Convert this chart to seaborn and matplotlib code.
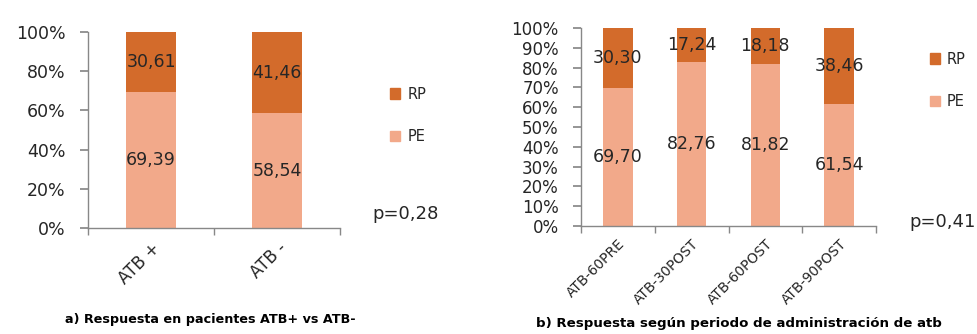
import matplotlib
matplotlib.use("Agg")
import matplotlib.pyplot as plt
import seaborn as sns
from matplotlib.patches import Patch

# data
cats_a = ["ATB +", "ATB -"]
pe_a = [69.39, 58.54]
rp_a = [30.61, 41.46]

cats_b = ["ATB-60PRE", "ATB-30POST", "ATB-60POST", "ATB-90POST"]
pe_b = [69.70, 82.76, 81.82, 61.54]
rp_b = [30.30, 17.24, 18.18, 38.46]

col_rp = "#D36B2B"
col_pe = "#F2A98A"
txt = "#262626"

sns.set_theme(style="white")
plt.rcParams['font.family'] = ['DejaVu Sans']

fig = plt.figure(figsize=(9.77, 3.34), dpi=100)
ax_a = fig.add_axes([0.0901, 0.3174, 0.2579, 0.5868])
ax_b = fig.add_axes([0.5947, 0.3234, 0.3019, 0.5928])


def stacked(ax, cats, pe, rp, step, tick_fs, xlab_fs):
    total = [p + r for p, r in zip(pe, rp)]
    sns.barplot(x=cats, y=total, color=col_rp, width=0.4, saturation=1, linewidth=0, ax=ax)
    sns.barplot(x=cats, y=pe, color=col_pe, width=0.4, saturation=1, linewidth=0, ax=ax)
    n = len(cats)
    pe_bars = ax.containers[1]
    rp_bars = ax.containers[0]
    ax.bar_label(pe_bars, labels=[f"{v:.2f}".replace(".", ",") for v in pe],
                 label_type="center", fontsize=12.5, color=txt)
    for bar, p, r in zip(rp_bars, pe, rp):
        ax.text(bar.get_x() + bar.get_width() / 2, p + r / 2,
                f"{r:.2f}".replace(".", ","), ha="center", va="center",
                fontsize=12.5, color=txt)
    ax.set_xlim(-0.5, n - 0.5)
    ax.set_ylim(0, 100)
    ax.set_yticks(range(0, 101, step))
    ax.set_yticklabels([f"{t}%" for t in range(0, 101, step)], fontsize=tick_fs, color=txt)
    ax.set_xticks(range(n))
    ax.set_xticklabels(cats, rotation=45, ha="right", rotation_mode="anchor",
                       fontsize=xlab_fs, color=txt)
    ax.set_xticks([i - 0.5 for i in range(n + 1)], minor=True)
    ax.tick_params(axis="x", which="major", length=0, pad=8)
    ax.tick_params(axis="x", which="minor", length=5, color="#888888", direction="out", bottom=True)
    ax.tick_params(axis="y", length=6, color="#888888", direction="out", left=True, pad=10)
    for s in ["top", "right"]:
        ax.spines[s].set_visible(False)
    for s in ["left", "bottom"]:
        ax.spines[s].set_color("#888888")
        ax.spines[s].set_linewidth(1.0)
    ax.set_xlabel("")
    ax.set_ylabel("")


stacked(ax_a, cats_a, pe_a, rp_a, 20, 12.5, 12)
stacked(ax_b, cats_b, pe_b, rp_b, 10, 12, 10)

handles = [Patch(color=col_rp, label="RP"), Patch(color=col_pe, label="PE")]
for xy in [(0.386, 0.78), (0.938, 0.885)]:
    fig.legend(handles=handles, loc="upper left", bbox_to_anchor=xy, frameon=False,
               handlelength=0.7, handleheight=0.7, handletextpad=0.5,
               labelspacing=1.9, fontsize=10.5, labelcolor=txt)

fig.text(372 / 977, 1 - 214 / 334, "p=0,28", fontsize=13, color=txt, va="center")
fig.text(909 / 977, 1 - 222 / 334, "p=0,41", fontsize=13, color=txt, va="center")

fig.text(210 / 977, 1 - 320 / 334, "a) Respuesta en pacientes ATB+ vs ATB-",
         fontsize=9.2, fontweight="bold", ha="center", va="center", color="black")
fig.text(739 / 977, 1 - 324 / 334, "b) Respuesta según periodo de administración de atb",
         fontsize=9.6, fontweight="bold", ha="center", va="center", color="black")

fig.savefig("out.png", dpi=100)
